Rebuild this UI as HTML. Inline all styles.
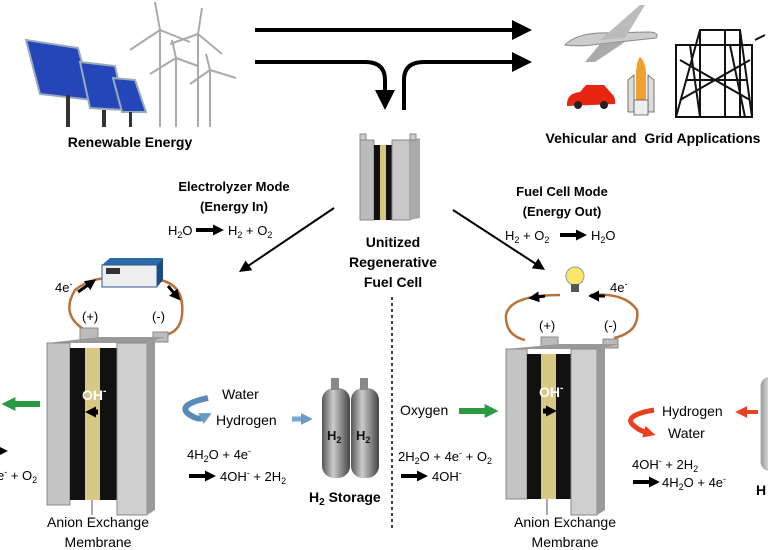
<!DOCTYPE html>
<html><head><meta charset="utf-8"><style>
html,body{margin:0;padding:0;background:#fff;}
svg{display:block;font-family:"Liberation Sans",sans-serif;}
.b{font-weight:bold;}
</style></head><body>
<svg width="768" height="550" viewBox="0 0 768 550" xmlns="http://www.w3.org/2000/svg">
<defs>
<marker id="big" viewBox="0 0 10 10" markerWidth="20" markerHeight="20" refX="1" refY="5" orient="auto" markerUnits="userSpaceOnUse"><path d="M0,0 L10,5 L0,10 z" fill="#000"/></marker>
<marker id="med" viewBox="0 0 10 10" markerWidth="12" markerHeight="12" refX="1" refY="5" orient="auto" markerUnits="userSpaceOnUse"><path d="M0,0 L10,5 L0,10 z" fill="#000"/></marker>
<marker id="sm" viewBox="0 0 10 10" markerWidth="11" markerHeight="11" refX="1" refY="5" orient="auto" markerUnits="userSpaceOnUse"><path d="M0,0 L10,5 L0,10 z" fill="#000"/></marker>
<marker id="grn" viewBox="0 0 10 10" markerWidth="14" markerHeight="14" refX="1" refY="5" orient="auto" markerUnits="userSpaceOnUse"><path d="M0,0 L10,5 L0,10 z" fill="#2a9a40"/></marker>
<marker id="red" viewBox="0 0 10 10" markerWidth="12" markerHeight="12" refX="1" refY="5" orient="auto" markerUnits="userSpaceOnUse"><path d="M0,0 L10,5 L0,10 z" fill="#e84020"/></marker>
<marker id="blu" viewBox="0 0 10 10" markerWidth="12" markerHeight="12" refX="1" refY="5" orient="auto" markerUnits="userSpaceOnUse"><path d="M0,0 L10,5 L0,10 z" fill="#6a9ac6"/></marker>
<linearGradient id="tank" x1="0" x2="1"><stop offset="0" stop-color="#555"/><stop offset="0.4" stop-color="#ccc"/><stop offset="1" stop-color="#444"/></linearGradient>
<linearGradient id="tank2" x1="0" x2="1"><stop offset="0" stop-color="#999"/><stop offset="0.5" stop-color="#eee"/><stop offset="1" stop-color="#888"/></linearGradient>
</defs>

<!-- solar panels -->
<g>
<polygon points="26,40 78,48 92,100 40,94" fill="#2546b8" stroke="#9ab" stroke-width="2"/>
<polygon points="80,62 115,66 125,110 90,108" fill="#2546b8" stroke="#9ab" stroke-width="2"/>
<polygon points="113,78 135,80 146,112 122,112" fill="#2546b8" stroke="#9ab" stroke-width="2"/>
<rect x="66" y="95" width="4" height="32" fill="#333"/>
<rect x="102" y="110" width="4" height="17" fill="#333"/>
<rect x="129" y="112" width="3" height="15" fill="#333"/>
</g>
<g stroke="#aaa" fill="none" stroke-width="2">
<line x1="160" y1="30" x2="160" y2="127"/><line x1="160" y1="30" x2="155" y2="2"/><line x1="160" y1="30" x2="130" y2="50"/><line x1="160" y1="30" x2="190" y2="42"/>
<line x1="198" y1="34" x2="198" y2="127"/><line x1="198" y1="34" x2="202" y2="8"/><line x1="198" y1="34" x2="170" y2="44"/><line x1="198" y1="34" x2="222" y2="54"/>
<line x1="176" y1="58" x2="176" y2="127"/><line x1="176" y1="58" x2="150" y2="74"/><line x1="176" y1="58" x2="198" y2="66"/><line x1="176" y1="58" x2="172" y2="40"/>
<line x1="210" y1="70" x2="210" y2="127"/><line x1="210" y1="70" x2="190" y2="84"/><line x1="210" y1="70" x2="236" y2="78"/><line x1="210" y1="70" x2="206" y2="54"/>
</g>
<text x="130" y="147" class="b" font-size="14" text-anchor="middle">Renewable Energy</text>

<!-- top arrows -->
<line x1="255" y1="30" x2="514" y2="30" stroke="#000" stroke-width="4" marker-end="url(#big)"/>
<path d="M255,62 L365,62 Q385,62 385,80 L385,92" stroke="#000" stroke-width="4" fill="none" marker-end="url(#big)"/>
<path d="M404,110 L404,80 Q404,62 424,62 L514,62" stroke="#000" stroke-width="4" fill="none" marker-end="url(#big)"/>

<!-- plane -->
<g>
<path d="M565,45 Q575,34 600,33 L650,32 Q660,33 656,38 L600,44 Q580,47 565,45z" fill="#ccc" stroke="#888"/>
<path d="M600,40 L640,5 L645,5 L625,38z" fill="#bbb"/>
<path d="M600,44 L585,62 L595,62 L625,42z" fill="#aaa"/>
</g>
<path d="M567,103 Q568,93 580,92 L586,85 L604,85 L612,94 Q616,98 615,104 L567,106z" fill="#e8250f"/>
<circle cx="578" cy="105" r="4" fill="#222"/><circle cx="604" cy="105" r="4" fill="#222"/>
<path d="M640,57 Q646,62 646,75 L646,100 L636,100 L636,75 Q636,62 640,57z" fill="#f0a030"/>
<path d="M628,100 L628,80 L634,75 L634,112 L628,112z M648,75 L654,80 L654,112 L648,112z" fill="#ddd" stroke="#555" stroke-width="0.8"/>
<rect x="634" y="100" width="14" height="15" fill="#eee" stroke="#555" stroke-width="0.8"/>
<g stroke="#111" stroke-width="2" fill="none">
<rect x="676" y="45" width="76" height="72"/>
<path d="M676,117 L700,30 L740,30 L752,117 M686,80 L748,80 M680,60 L750,100 M750,60 L680,100 M700,30 L700,117 M725,30 L725,117 M740,30 L740,117 M755,40 L765,35 M690,45 L700,117 M730,45 L745,117"/>
</g>
<text x="653" y="143" class="b" font-size="14" text-anchor="middle">Vehicular and&#160; Grid Applications</text>

<!-- central small cell -->
<g>
<rect x="360" y="140" width="14" height="80" fill="#bbb" stroke="#888"/>
<rect x="374" y="145" width="6" height="75" fill="#111"/>
<rect x="380" y="145" width="6" height="75" fill="#d8c67c"/>
<rect x="386" y="145" width="6" height="75" fill="#111"/>
<rect x="392" y="140" width="18" height="80" fill="#c8c8c8" stroke="#888"/>
<polygon points="410,140 420,138 420,218 410,220" fill="#aaa"/>
<rect x="360" y="134" width="6" height="6" fill="#ccc" stroke="#888"/>
<rect x="410" y="134" width="6" height="6" fill="#ccc" stroke="#888"/>
</g>
<text x="393" y="247" class="b" font-size="14" text-anchor="middle">Unitized</text>
<text x="393" y="267" class="b" font-size="14" text-anchor="middle">Regenerative</text>
<text x="393" y="287" class="b" font-size="14" text-anchor="middle">Fuel Cell</text>
<line x1="392" y1="297" x2="392" y2="530" stroke="#000" stroke-width="1.5" stroke-dasharray="3,3"/>

<!-- mode texts -->
<text x="234" y="191" class="b" font-size="13" text-anchor="middle">Electrolyzer Mode</text>
<text x="234" y="211" class="b" font-size="13" text-anchor="middle">(Energy In)</text>
<text x="168" y="235" font-size="13">H<tspan font-size="9" dy="3">2</tspan><tspan dy="-3">O</tspan></text>
<line x1="196" y1="230" x2="214" y2="230" stroke="#000" stroke-width="4" marker-end="url(#sm)"/>
<text x="228" y="235" font-size="13">H<tspan font-size="9" dy="3">2</tspan><tspan dy="-3"> + O</tspan><tspan font-size="9" dy="3">2</tspan></text>
<line x1="334" y1="208" x2="248" y2="266" stroke="#000" stroke-width="2" marker-end="url(#med)"/>

<text x="562" y="196" class="b" font-size="13" text-anchor="middle">Fuel Cell Mode</text>
<text x="562" y="216" class="b" font-size="13" text-anchor="middle">(Energy Out)</text>
<text x="505" y="240" font-size="13">H<tspan font-size="9" dy="3">2</tspan><tspan dy="-3"> + O</tspan><tspan font-size="9" dy="3">2</tspan></text>
<line x1="560" y1="235" x2="577" y2="235" stroke="#000" stroke-width="4" marker-end="url(#sm)"/>
<text x="591" y="240" font-size="13">H<tspan font-size="9" dy="3">2</tspan><tspan dy="-3">O</tspan></text>
<line x1="453" y1="210" x2="536" y2="264" stroke="#000" stroke-width="2" marker-end="url(#med)"/>

<!-- LEFT electrolyzer -->
<path d="M85,330 Q60,315 75,290 Q90,278 110,278 M160,280 Q185,285 182,315 Q180,332 165,335" stroke="#b8733a" stroke-width="2.5" fill="none"/>
<path d="M78,292 L88,285" stroke="#000" stroke-width="3" marker-end="url(#sm)"/>
<path d="M168,286 L174,293" stroke="#000" stroke-width="3" marker-end="url(#sm)"/>
<polygon points="102,265 110,258 163,258 157,265" fill="#2a6aa8"/>
<rect x="102" y="265" width="55" height="22" fill="#eee" stroke="#2a5a90"/>
<polygon points="157,265 163,258 163,280 157,287" fill="#1d4d80"/>
<rect x="106" y="268" width="14" height="6" fill="#333"/>
<text x="55" y="292" font-size="13">4e<tspan font-size="9" dy="-5">-</tspan></text>
<text x="82" y="321" font-size="13">(+)</text>
<text x="152" y="321" font-size="13">(-)</text>
<rect x="80" y="328" width="18" height="12" fill="#bbb" stroke="#888"/>
<rect x="153" y="332" width="15" height="10" fill="#bbb" stroke="#888"/>
<polygon points="47,343 100,337 165,337 145,343" fill="#999"/>
<rect x="47" y="343" width="23" height="162" fill="#c4c4c4" stroke="#888"/>
<rect x="70" y="348" width="15" height="152" fill="#111"/>
<rect x="85" y="348" width="15" height="152" fill="#d9c784"/>
<rect x="100" y="348" width="17" height="152" fill="#111"/>
<rect x="117" y="343" width="30" height="172" fill="#cfcfcf" stroke="#888"/>
<polygon points="147,343 155,338 155,510 147,515" fill="#9a9a9a"/>
<text x="82" y="400" class="b" font-size="14" fill="#fff">OH<tspan font-size="10" dy="-6" fill="#fff">-</tspan></text>
<path d="M98,412 L95,412" stroke="#000" stroke-width="5" marker-end="url(#sm)"/>
<line x1="92" y1="500" x2="92" y2="515" stroke="#555" stroke-width="1"/>
<text x="98" y="527" font-size="14" text-anchor="middle">Anion Exchange</text>
<text x="98" y="547" font-size="14" text-anchor="middle">Membrane</text>
<path d="M40,404 L14,404" stroke="#2a9a40" stroke-width="6" marker-end="url(#grn)"/>
<text x="-3" y="480" font-size="13">e<tspan font-size="9" dy="-5">-</tspan><tspan dy="5"> + O</tspan><tspan font-size="9" dy="3">2</tspan></text>
<path d="M-10,451 L-2,451" stroke="#000" stroke-width="4" marker-end="url(#sm)"/>

<path d="M208,398 Q175,405 190,415 Q198,420 202,418" stroke="#5a8ab8" stroke-width="6" fill="none" marker-end="url(#blu)"/>
<text x="222" y="399" font-size="14">Water</text>
<text x="216" y="425" font-size="14">Hydrogen</text>
<path d="M292,419 L302,419" stroke="#7aa6d0" stroke-width="5" marker-end="url(#blu)"/>
<text x="187" y="459" font-size="13">4H<tspan font-size="9" dy="3">2</tspan><tspan dy="-3">O + 4e</tspan><tspan font-size="9" dy="-5">-</tspan></text>
<line x1="189" y1="476" x2="206" y2="476" stroke="#000" stroke-width="4" marker-end="url(#sm)"/>
<text x="220" y="481" font-size="13">4OH<tspan font-size="9" dy="-5">-</tspan><tspan dy="5"> + 2H</tspan><tspan font-size="9" dy="3">2</tspan></text>
<rect x="322" y="388" width="28" height="90" rx="12" fill="url(#tank)"/>
<rect x="351" y="388" width="28" height="90" rx="12" fill="url(#tank)"/>
<rect x="331" y="378" width="8" height="12" fill="#888"/><rect x="360" y="378" width="8" height="12" fill="#888"/>
<text x="327" y="440" class="b" font-size="13" fill="#111">H<tspan font-size="9" dy="3">2</tspan></text>
<text x="356" y="440" class="b" font-size="13" fill="#111">H<tspan font-size="9" dy="3">2</tspan></text>
<text x="309" y="502" class="b" font-size="14">H<tspan font-size="10" dy="3">2</tspan><tspan dy="-3"> Storage</tspan></text>

<!-- RIGHT fuel cell -->
<path d="M525,340 Q505,335 506,315 Q510,295 560,295 M590,295 Q625,292 637,310 Q640,332 614,338" stroke="#b8733a" stroke-width="2.5" fill="none"/>
<path d="M545,296 L538,297" stroke="#000" stroke-width="3" marker-end="url(#sm)"/>
<path d="M605,296 L598,296" stroke="#000" stroke-width="3" marker-end="url(#sm)"/>
<circle cx="575" cy="276" r="9" fill="#fbe56a" stroke="#999"/>
<rect x="571" y="284" width="8" height="8" fill="#555"/>
<text x="610" y="292" font-size="13">4e<tspan font-size="9" dy="-5">-</tspan></text>
<text x="539" y="330" font-size="13">(+)</text>
<text x="604" y="330" font-size="13">(-)</text>
<rect x="541" y="337" width="17" height="10" fill="#bbb" stroke="#888"/>
<rect x="603" y="339" width="15" height="9" fill="#bbb" stroke="#888"/>
<polygon points="506,349 560,344 620,344 597,349" fill="#999"/>
<rect x="506" y="349" width="21" height="150" fill="#c4c4c4" stroke="#888"/>
<rect x="527" y="354" width="14" height="145" fill="#111"/>
<rect x="541" y="354" width="15" height="145" fill="#d9c784"/>
<rect x="556" y="354" width="15" height="145" fill="#111"/>
<rect x="571" y="349" width="26" height="166" fill="#cfcfcf" stroke="#888"/>
<polygon points="597,349 605,344 605,510 597,515" fill="#9a9a9a"/>
<text x="539" y="397" class="b" font-size="14" fill="#fff">OH<tspan font-size="10" dy="-6" fill="#fff">-</tspan></text>
<path d="M543,411 L547,411" stroke="#000" stroke-width="5" marker-end="url(#sm)"/>
<line x1="547" y1="499" x2="547" y2="515" stroke="#555" stroke-width="1"/>
<text x="565" y="527" font-size="14" text-anchor="middle">Anion Exchange</text>
<text x="565" y="547" font-size="14" text-anchor="middle">Membrane</text>
<text x="400" y="415" font-size="14">Oxygen</text>
<path d="M459,411 L486,411" stroke="#2a9a40" stroke-width="6" marker-end="url(#grn)"/>
<text x="398" y="461" font-size="13">2H<tspan font-size="9" dy="3">2</tspan><tspan dy="-3">O + 4e</tspan><tspan font-size="9" dy="-5">-</tspan><tspan dy="5"> + O</tspan><tspan font-size="9" dy="3">2</tspan></text>
<line x1="401" y1="476" x2="418" y2="476" stroke="#000" stroke-width="4" marker-end="url(#sm)"/>
<text x="432" y="481" font-size="13">4OH<tspan font-size="9" dy="-5">-</tspan></text>
<path d="M654,410 Q625,415 632,424 Q638,430 645,432" stroke="#e84020" stroke-width="5" fill="none" marker-end="url(#red)"/>
<text x="662" y="416" font-size="14">Hydrogen</text>
<text x="668" y="438" font-size="14">Water</text>
<path d="M758,412 L746,412" stroke="#e84020" stroke-width="4" marker-end="url(#red)"/>
<text x="632" y="469" font-size="13">4OH<tspan font-size="9" dy="-5">-</tspan><tspan dy="5"> + 2H</tspan><tspan font-size="9" dy="3">2</tspan></text>
<line x1="633" y1="482" x2="650" y2="482" stroke="#000" stroke-width="4" marker-end="url(#sm)"/>
<text x="662" y="487" font-size="13">4H<tspan font-size="9" dy="3">2</tspan><tspan dy="-3">O + 4e</tspan><tspan font-size="9" dy="-5">-</tspan></text>
<rect x="761" y="378" width="20" height="92" rx="8" fill="url(#tank2)" stroke="#aaa"/>
<text x="756" y="495" class="b" font-size="14">H</text>
</svg>
</body></html>
